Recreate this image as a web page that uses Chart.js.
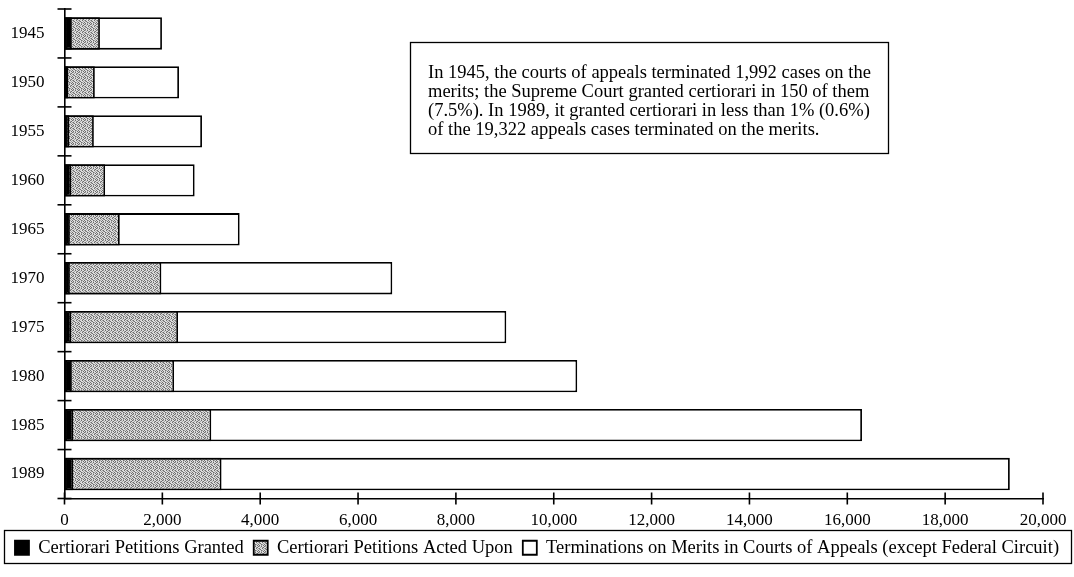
<!DOCTYPE html>
<html>
<head>
<meta charset="utf-8">
<script src="https://cdn.jsdelivr.net/npm/chart.js@4.4.1/dist/chart.umd.min.js"></script>
<style>
  html, body { margin: 0; padding: 0; background: #fff; }
  #wrap { width: 1074px; height: 577px; }
</style>
</head>
<body>
<div id="wrap"><canvas id="c" width="1074" height="577"></canvas></div>
<script>
// ---- data ----
const years = ['1945', '1950', '1955', '1960', '1965', '1970', '1975', '1980', '1985', '1989'];
const granted = [150, 80, 100, 140, 110, 110, 140, 150, 180, 180];
const actedUpon = [724, 620, 600, 830, 1130, 1980, 2320, 2240, 3000, 3210];
const terminations = [1992, 2340, 2810, 2660, 3580, 6700, 9030, 10480, 16300, 19322];
const xTicks = [0, 2000, 4000, 6000, 8000, 10000, 12000, 14000, 16000, 18000, 20000];
const seriesNames = [
  'Certiorari Petitions Granted',
  'Certiorari Petitions Acted Upon',
  'Terminations on Merits in Courts of Appeals (except Federal Circuit)'
];
const noteLines = [
  'In 1945, the courts of appeals terminated 1,992 cases on the',
  'merits; the Supreme Court granted certiorari in 150 of them',
  '(7.5%). In 1989, it granted certiorari in less than 1% (0.6%)',
  'of the 19,322 appeals cases terminated on the merits.'
];

const FONT = '"Liberation Serif", "DejaVu Serif", serif';

// stipple pattern (fixed dot layout)
function makeStipple() {
  const p = document.createElement('canvas');
  p.width = 6; p.height = 6;
  const g = p.getContext('2d');
  g.fillStyle = '#dedede';
  g.fillRect(0, 0, 6, 6);
  g.fillStyle = '#6e6e6e';
  [[0,0],[3,0],[5,1],[1,2],[4,2],[2,3],[0,4],[3,4],[5,5],[1,5]].forEach(d => g.fillRect(d[0], d[1], 1, 1));
  g.fillStyle = '#a4a4a4';
  [[1,0],[4,1],[2,1],[5,3],[0,2],[3,5],[4,4],[1,3]].forEach(d => g.fillRect(d[0], d[1], 1, 1));
  return g.createPattern(p, 'repeat');
}
const ctx0 = document.getElementById('c').getContext('2d');
const stipple = makeStipple();

const crossTicks = {
  id: 'crossTicks',
  afterDraw(chart) {
    const ctx = chart.ctx;
    const xs = chart.scales.x, ys = chart.scales.y;
    ctx.save();
    ctx.strokeStyle = '#000';
    ctx.lineWidth = 1.6;
    const band = ys.getPixelForValue(1) - ys.getPixelForValue(0);
    for (let i = 0; i <= years.length; i++) {
      const y = ys.getPixelForValue(i) - band / 2;
      ctx.beginPath();
      ctx.moveTo(xs.left - 7, y);
      ctx.lineTo(xs.left + 7, y);
      ctx.stroke();
    }
    xTicks.forEach(v => {
      const x = xs.getPixelForValue(v);
      ctx.beginPath();
      ctx.moveTo(x, ys.bottom - 6);
      ctx.lineTo(x, ys.bottom + 6);
      ctx.stroke();
    });
    ctx.restore();
  }
};

const noteBox = {
  id: 'noteBox',
  afterDraw(chart) {
    const ctx = chart.ctx;
    ctx.save();
    ctx.fillStyle = '#fff';
    ctx.fillRect(410, 42, 478, 111);
    ctx.strokeStyle = '#000';
    ctx.lineWidth = 1.3;
    ctx.strokeRect(410.5, 42.5, 478, 111);
    ctx.fillStyle = '#000';
    ctx.font = '18.5px ' + FONT;
    ctx.textBaseline = 'middle';
    noteLines.forEach((l, i) => ctx.fillText(l, 428, 73 + i * 19));
    ctx.restore();
  }
};

const legendFrame = {
  id: 'legendFrame',
  afterDraw(chart) {
    const ctx = chart.ctx;
    ctx.save();
    ctx.strokeStyle = '#000';
    ctx.lineWidth = 1.3;
    ctx.strokeRect(4.5, 530.5, 1067, 33);
    ctx.restore();
  }
};

const barStyle = { borderColor: '#000', borderWidth: 1.8, grouped: false, borderSkipped: false, barPercentage: 0.66, categoryPercentage: 1 };

new Chart(ctx0, {
  type: 'bar',
  data: {
    labels: years,
    datasets: [
      Object.assign({ label: seriesNames[0], data: granted, backgroundColor: '#000' }, barStyle),
      Object.assign({ label: seriesNames[1], data: actedUpon, backgroundColor: stipple }, barStyle),
      Object.assign({ label: seriesNames[2], data: terminations, backgroundColor: '#fff' }, barStyle)
    ]
  },
  options: {
    indexAxis: 'y',
    responsive: false,
    animation: false,
    devicePixelRatio: 1,
    layout: { padding: { left: 0, right: 0, top: 9, bottom: 10 } },
    scales: {
      x: {
        min: 0, max: 20000,
        afterBuildTicks(s) { s.ticks = xTicks.map(v => ({ value: v })); },
        afterFit(s) { s.height = 30; s.paddingLeft = 0; s.paddingRight = 31; },
        border: { display: true, color: '#000', width: 1.6 },
        grid: { display: true, drawOnChartArea: false, drawTicks: false, tickLength: 6, color: '#000' },
        ticks: {
          color: '#000', padding: 12,
          font: { family: FONT, size: 17 },
          callback: v => v.toLocaleString('en-US')
        }
      },
      y: {
        afterFit(s) { s.width = 64.5; s.paddingTop = 0; s.paddingBottom = 0; },
        border: { display: true, color: '#000', width: 1.6 },
        grid: { display: true, drawOnChartArea: false, drawTicks: false, tickLength: 7, color: '#000', offset: true },
        ticks: { color: '#000', padding: 20, font: { family: FONT, size: 17 } }
      }
    },
    plugins: {
      legend: {
        position: 'bottom',
        labels: {
          color: '#000',
          boxWidth: 14, boxHeight: 14,
          padding: 10,
          font: { family: FONT, size: 18.5 }
        }
      },
      tooltip: { enabled: false }
    }
  },
  plugins: [crossTicks, noteBox, legendFrame]
});
</script>
</body>
</html>
